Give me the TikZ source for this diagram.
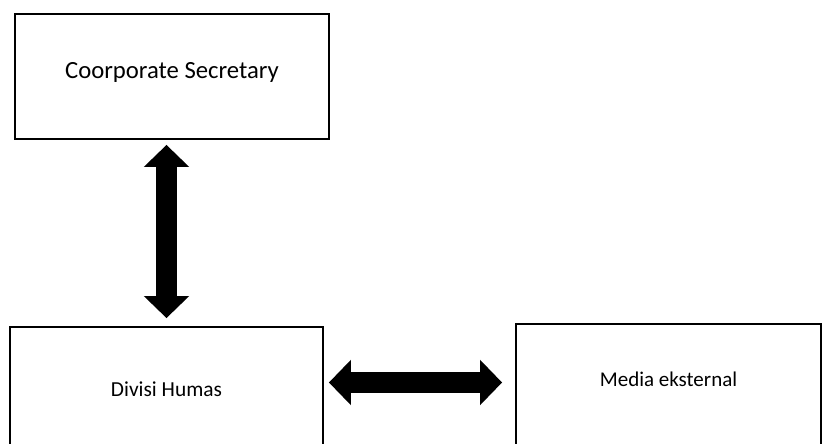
\documentclass[tikz,border=0pt]{standalone}
\usepackage{fontspec}
\setmainfont{Carlito}
\usetikzlibrary{arrows.meta, positioning}

\begin{document}
\begin{tikzpicture}[
    x=1pt, y=-1pt,
    box/.style={rectangle, draw, line width=1.8pt, minimum width=314pt, minimum height=125pt, align=center, inner sep=0pt},
    bigarrow/.style={{Triangle[length=22pt, width=44pt]}-{Triangle[length=22pt, width=44pt]}, line width=21pt},
]
\useasboundingbox (0,0) rectangle (823,444);
\fill[white] (0,0) rectangle (823,444);
\clip (0,0) rectangle (823,444);

\node[box, font=\fontsize{24.7}{29}\selectfont, text depth=13pt] (sec) at (172,76.5) {Coorporate Secretary};
\node[box, minimum width=313pt, font=\fontsize{21.4}{25}\selectfont] (hum) at (166.5,389.5) {Divisi Humas};
\node[box, minimum width=305pt, font=\fontsize{21}{25}\selectfont, text depth=14pt] (med) at (668.5,386.5) {Media eksternal};

\draw[bigarrow, shorten <=5pt, shorten >=8pt] (sec.south -| hum.north) -- (hum.north);
\draw[bigarrow, shorten <=5pt, shorten >=13pt] ([yshift=7pt]hum.east) -- ([yshift=7pt]hum.east -| med.west);

\end{tikzpicture}
\end{document}
